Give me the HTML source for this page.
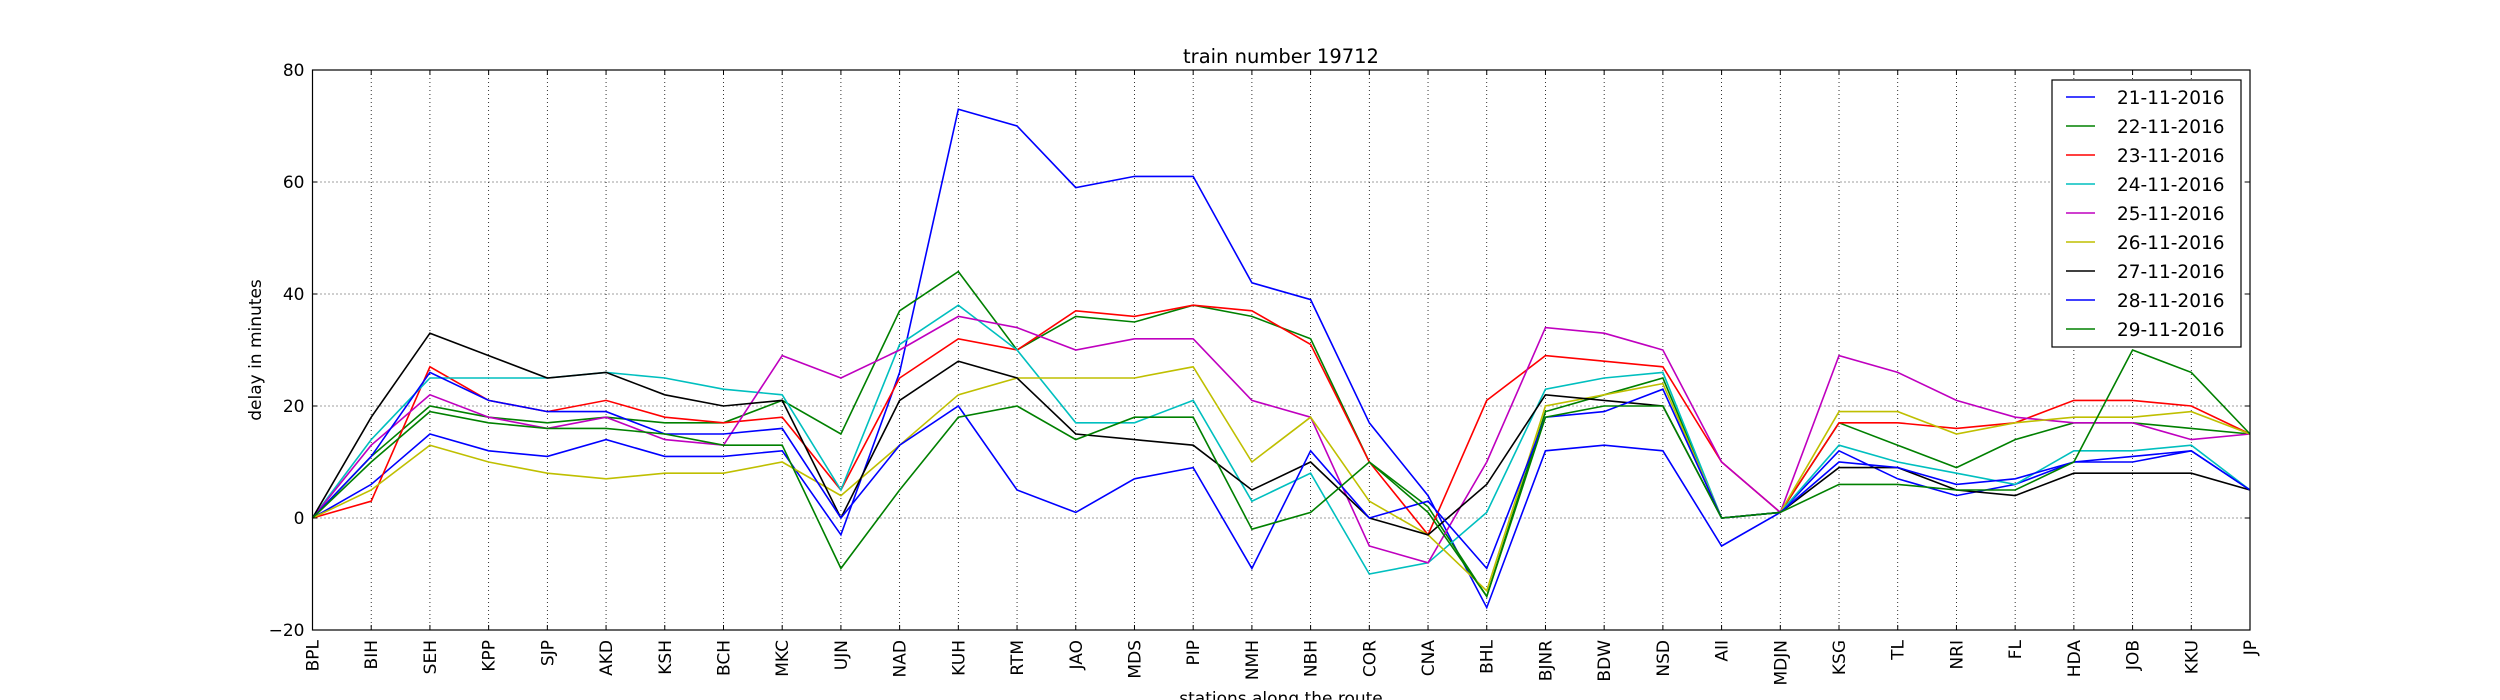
<!DOCTYPE html>
<html><head><meta charset="utf-8">
<style>
html,body{margin:0;padding:0;background:#fff;}
svg{display:block;font-family:"DejaVu Sans","Liberation Sans",sans-serif;}
</style></head>
<body>
<svg id="chart" width="2500" height="700" viewBox="0 0 2500 700" xmlns="http://www.w3.org/2000/svg">
<rect x="0" y="0" width="2500" height="700" fill="#fff"/>
<text x="1281" y="63" text-anchor="middle" font-size="19.5">train number 19712</text>
<g id="grid"></g>
<g id="series"></g>
<rect x="312.5" y="70" width="1937.5" height="560" fill="none" stroke="#000" stroke-width="1.2"/>
<g id="ticks"></g>
<text x="1281" y="704" text-anchor="middle" font-size="17">stations along the route</text>
<text transform="translate(261,350) rotate(-90)" text-anchor="middle" font-size="17">delay in minutes</text>
<g id="legend"></g>
</svg>
<script>
const stations = ["BPL","BIH","SEH","KPP","SJP","AKD","KSH","BCH","MKC","UJN","NAD","KUH","RTM","JAO","MDS","PIP","NMH","NBH","COR","CNA","BHL","BJNR","BDW","NSD","AII","MDJN","KSG","TL","NRI","FL","HDA","JOB","KKU","JP"];
const yTicks = [-20,0,20,40,60,80];
const seriesNames = ["21-11-2016","22-11-2016","23-11-2016","24-11-2016","25-11-2016","26-11-2016","27-11-2016","28-11-2016","29-11-2016"];
const seriesColors = ["#0000ff","#008000","#ff0000","#00bfbf","#bf00bf","#bfbf00","#000000","#0000ff","#008000"];
const s21 = [0,6,15,12,11,14,11,11,12,-3,26,73,70,59,61,61,42,39,17,4,-16,12,13,12,-5,1,12,7,4,6,10,10,12,5];
const s22 = [0,11,20,18,17,18,17,17,21,15,37,44,30,36,35,38,36,32,10,2,-14,19,22,25,0,1,17,13,9,14,17,17,16,15];
const s23 = [0,3,27,21,19,21,18,17,18,5,25,32,30,37,36,38,37,31,10,-3,21,29,28,27,10,1,17,17,16,17,21,21,20,15];
const s24 = [0,14,25,25,25,26,25,23,22,5,31,38,30,17,17,21,3,8,-10,-8,1,23,25,26,0,1,13,10,8,6,12,12,13,5];
const s25 = [0,13,22,18,16,18,14,13,29,25,30,36,34,30,32,32,21,18,-5,-8,10,34,33,30,10,1,29,26,21,18,17,17,14,15];
const s26 = [0,5,13,10,8,7,8,8,10,4,13,22,25,25,25,27,10,18,3,-3,-13,20,22,24,0,1,19,19,15,17,18,18,19,15];
const s27 = [0,18,33,29,25,26,22,20,21,0,21,28,25,15,14,13,5,10,0,-3,6,22,21,20,0,1,9,9,5,4,8,8,8,5];
const s28 = [0,11,26,21,19,19,15,15,16,0,13,20,5,1,7,9,-9,12,0,3,-9,18,19,23,0,1,10,9,6,7,10,11,12,5];
const s29 = [0,10,19,17,16,16,15,13,13,-9,5,18,20,14,18,18,-2,1,10,1,-14,18,20,20,0,1,6,6,5,5,10,30,26,15];
const allSeries = [s21,s22,s23,s24,s25,s26,s27,s28,s29];

const NS = "http://www.w3.org/2000/svg";
const L = 312.5, R = 2250, T = 70, B = 630;
const xs = i => L + (R - L) * i / (stations.length - 1);
const ys = v => B - (v + 20) / 100 * (B - T);
function mk(tag, attrs, parent){const e=document.createElementNS(NS,tag);for(const k in attrs)e.setAttribute(k,attrs[k]);parent.appendChild(e);return e;}

const grid = document.getElementById('grid');
const ticks = document.getElementById('ticks');
stations.forEach((s,i)=>{
  const x = xs(i);
  if(i>0 && i<stations.length-1){
    const g = mk('line',{x1:x,x2:x,y1:T,y2:B,stroke:'#000','stroke-width':0.8,'stroke-dasharray':'1,3'},grid);
    
    
  }
  const t1 = mk('line',{x1:x,x2:x,y1:B,y2:B-5,stroke:'#000','stroke-width':1},ticks);
  
  
  const t2 = mk('line',{x1:x,x2:x,y1:T,y2:T+5,stroke:'#000','stroke-width':1},ticks);
  
  
  const lb = mk('text',{transform:`translate(${x+6},${640}) rotate(-90)`,'text-anchor':'end','font-size':17},ticks);
  lb.textContent = s;
  
  
});
yTicks.forEach(v=>{
  const y = ys(v);
  if(v>-20 && v<80){
    const g = mk('line',{x1:L,x2:R,y1:y,y2:y,stroke:'#000','stroke-width':0.8,'stroke-dasharray':'1,3'},grid);
    
    
  }
  const t1 = mk('line',{x1:L,x2:L+5,y1:y,y2:y,stroke:'#000','stroke-width':1},ticks);
  
  
  const t2 = mk('line',{x1:R-5,x2:R,y1:y,y2:y,stroke:'#000','stroke-width':1},ticks);
  
  
  const lb = mk('text',{x:L-8,y:y+6,'text-anchor':'end','font-size':17},ticks);
  lb.textContent = v<0 ? '\u2212'+Math.abs(v) : String(v);
  
  
});

const sg = document.getElementById('series');
allSeries.forEach((d,k)=>{
  const p = mk('polyline',{points:d.map((v,i)=>xs(i)+','+ys(v)).join(' '),fill:'none',stroke:seriesColors[k],'stroke-width':1.6,'stroke-linejoin':'miter'},sg);
  
  
});

const lg = document.getElementById('legend');
const box = mk('rect',{x:2052,y:80,width:189,height:267,fill:'#fff',stroke:'#000','stroke-width':1.2},lg);


seriesNames.forEach((n,k)=>{
  const y = 97 + k*29;
  const ln = mk('line',{x1:2066,x2:2095,y1:y,y2:y,stroke:seriesColors[k],'stroke-width':1.6},lg);
  
  
  const tx = mk('text',{x:2117,y:y+7,'font-size':18.5},lg);
  tx.textContent = n;
  
  
});
</script>
</body></html>
